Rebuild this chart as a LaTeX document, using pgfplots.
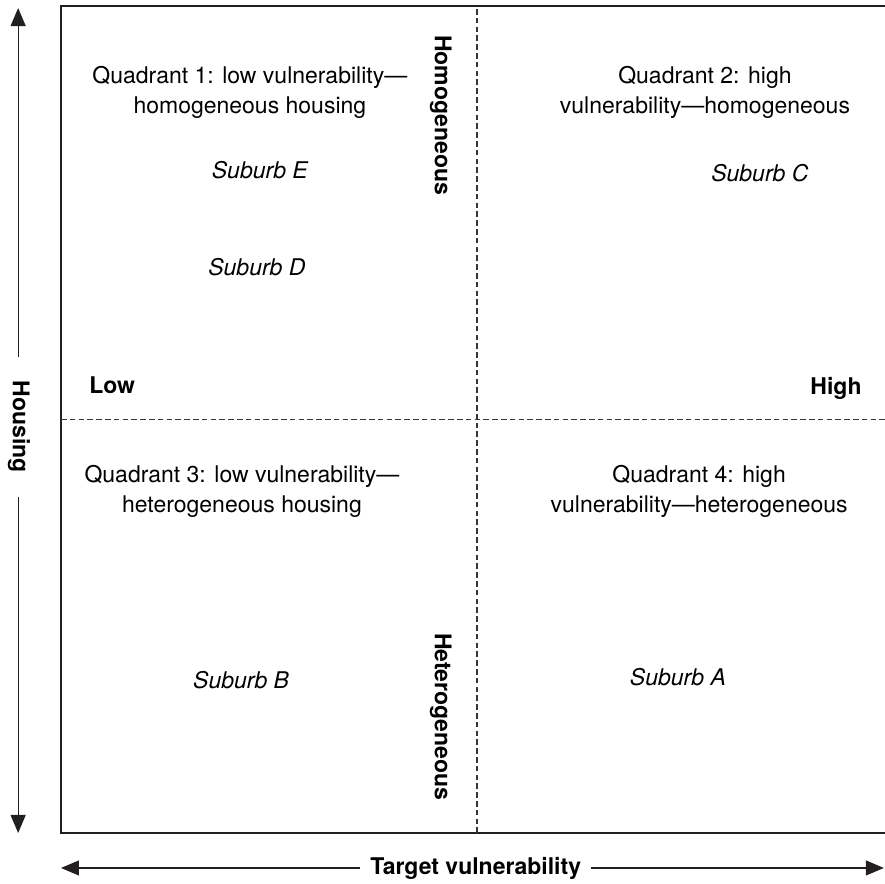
\documentclass[border=0pt]{standalone}
\usepackage{fontspec}
\setmainfont{TeX Gyre Heros}
\usepackage{pgfplots}
\pgfplotsset{compat=1.18}
\usetikzlibrary{arrows.meta}
\definecolor{ink}{HTML}{231F20}

\begin{document}
\begin{tikzpicture}
	\useasboundingbox (0,0) rectangle (442.5pt,442pt);
	\clip (0,0) rectangle (442.5pt,442pt);
	\begin{axis}[
		at={(30.5pt,25.5pt)}, anchor=origin,
		scale only axis,
		width=416pt, height=413.5pt,
		xmin=0, xmax=2, ymin=0, ymax=2,
		ticks=none,
		axis line style={ink, line width=0.7pt},
		clip=false,
		font=\fontsize{11.5}{15}\selectfont,
		every node/.append style={text=ink},
		]
		% quadrant dividers
		\addplot[ink!90, line width=0.6pt, dash pattern=on 2.8pt off 1.6pt] coordinates {(1,0) (1,2)};
		\addplot[ink!90, line width=0.6pt, dash pattern=on 2.8pt off 1.6pt] coordinates {(0,1) (2.05,1)};

		% suburbs
		\addplot[draw=none, mark=none, nodes near coords, point meta=explicit symbolic,
			nodes near coords style={anchor=center, font=\fontsize{11.5}{15}\selectfont\itshape}]
			table[col sep=comma, meta=label] {
x,y,label
0.478,1.603,Suburb E
0.471,1.369,Suburb D
1.680,1.596,Suburb C
0.433,0.370,Suburb B
1.483,0.377,Suburb A
};

		% quadrant captions
		\node[align=center] at (axis cs:0.454,1.790) {Quadrant 1: low vulnerability---\\homogeneous housing};
		\node[align=center] at (axis cs:1.548,1.790) {Quadrant 2: high\\vulnerability---homogeneous};
		\node[align=center] at (axis cs:0.435,0.825) {Quadrant 3: low vulnerability---\\heterogeneous housing};
		\node[align=center] at (axis cs:1.534,0.825) {Quadrant 4: high\\vulnerability---heterogeneous};

		% bold axis words
		\node[font=\fontsize{11.5}{15}\selectfont\bfseries] at (axis cs:0.123,1.083) {Low};
		\node[font=\fontsize{11.5}{15}\selectfont\bfseries] at (axis cs:1.863,1.074) {High};
		\node[font=\fontsize{11.5}{15}\selectfont\bfseries, rotate=-90] at (axis cs:0.913,1.736) {Homogeneous};
		\node[font=\fontsize{11.5}{15}\selectfont\bfseries, rotate=-90] at (axis cs:0.913,0.281) {Heterogeneous};

		% outer arrows
		\draw[ink, line width=0.55pt, {Triangle[length=9pt,width=7.5pt]}-{Triangle[length=9pt,width=7.5pt]}]
			(axis cs:-0.103,1.995) -- (axis cs:-0.103,0.0);
		\draw[ink, line width=0.55pt, {Triangle[length=9pt,width=7.5pt]}-{Triangle[length=9pt,width=7.5pt]}]
			(axis cs:0.0,-0.0846) -- (axis cs:1.978,-0.0846);
		\node[font=\fontsize{11.5}{15}\selectfont\bfseries, rotate=-90, fill=white, inner xsep=12pt]
			at (axis cs:-0.101,0.982) {Housing};
		\node[font=\fontsize{11.5}{15}\selectfont\bfseries, fill=white, inner xsep=5pt]
			at (axis cs:0.997,-0.0846) {Target vulnerability};
	\end{axis}
\end{tikzpicture}
\end{document}
